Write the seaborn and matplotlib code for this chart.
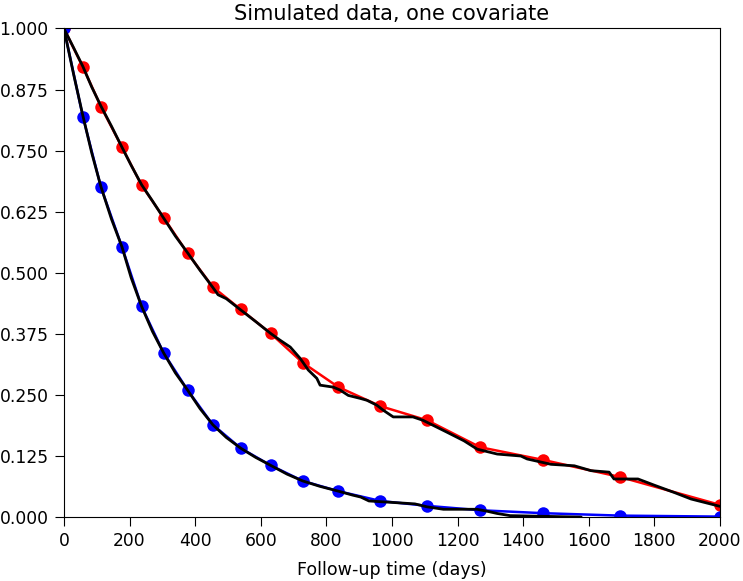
import numpy as np
import pandas as pd
import matplotlib
matplotlib.use("Agg")
import matplotlib.pyplot as plt
import seaborn as sns

# model curves evaluated at the marker times
times = [0, 58, 113, 177, 237, 304, 377, 454, 539, 630, 728, 837, 965,
         1108, 1269, 1461, 1696, 2000]
surv_red = [1.0, 0.921, 0.840, 0.757, 0.679, 0.613, 0.540, 0.471, 0.425,
            0.376, 0.316, 0.266, 0.227, 0.198, 0.143, 0.117, 0.082, 0.025]
surv_blue = [1.0, 0.819, 0.675, 0.553, 0.431, 0.336, 0.260, 0.189, 0.141,
             0.106, 0.074, 0.053, 0.033, 0.023, 0.014, 0.008, 0.003, 0.001]

# Kaplan-Meier estimates (black), vertices
km_red_t = [0, 30, 58, 85, 113, 145, 177, 205, 237, 270, 304, 340, 377, 415,
            454, 470, 495, 539, 585, 630, 659, 690, 720, 745, 771, 781, 821,
            842, 867, 903, 924, 954, 973, 995, 1004, 1064, 1095, 1137, 1167,
            1220, 1260, 1321, 1393, 1412, 1485, 1556, 1607, 1662, 1677, 1750,
            1801, 1862, 1912, 2000]
km_red_s = [1.0, 0.96, 0.922, 0.88, 0.841, 0.80, 0.757, 0.72, 0.680, 0.647,
            0.612, 0.575, 0.541, 0.505, 0.470, 0.455, 0.447, 0.424, 0.400,
            0.376, 0.362, 0.348, 0.325, 0.301, 0.284, 0.270, 0.266, 0.260,
            0.249, 0.243, 0.239, 0.229, 0.219, 0.209, 0.205, 0.205, 0.198,
            0.184, 0.174, 0.156, 0.139, 0.129, 0.125, 0.119, 0.108, 0.105,
            0.095, 0.092, 0.078, 0.078, 0.065, 0.050, 0.037, 0.022]
km_blue_t = [0, 30, 58, 85, 113, 145, 177, 205, 237, 270, 304, 340, 377, 415,
             454, 495, 539, 585, 630, 680, 728, 780, 837, 880, 905, 930, 1025,
             1070, 1107, 1157, 1259, 1290, 1320, 1360, 1577]
km_blue_s = [1.0, 0.905, 0.821, 0.745, 0.676, 0.61, 0.553, 0.49, 0.431, 0.38,
             0.336, 0.295, 0.26, 0.222, 0.189, 0.163, 0.141, 0.122, 0.106,
             0.088, 0.074, 0.063, 0.053, 0.045, 0.041, 0.033, 0.029, 0.027,
             0.021, 0.016, 0.016, 0.012, 0.0075, 0.003, 0.0]

sns.set_style("ticks")
plt.rcParams['font.family'] = ['DejaVu Sans']
plt.rcParams['text.color'] = 'black'
plt.rcParams['axes.labelcolor'] = 'black'

fig, ax = plt.subplots(figsize=(7.43, 5.81), dpi=100)
fig.subplots_adjust(left=0.086, right=0.969, top=0.951, bottom=0.110)

sns.lineplot(x=times, y=surv_red, color='red', marker='o', markersize=9,
             markeredgewidth=0, linewidth=1.8, ax=ax, sort=False)
sns.lineplot(x=times, y=surv_blue, color='blue', marker='o', markersize=9,
             markeredgewidth=0, linewidth=1.8, ax=ax, sort=False)
sns.lineplot(x=km_red_t, y=km_red_s, color='black', linewidth=2,
             ax=ax, sort=False)
sns.lineplot(x=km_blue_t, y=km_blue_s, color='black', linewidth=2,
             ax=ax, sort=False)

ax.set_xlim(0, 2000)
ax.set_ylim(0, 1)
ax.set_xticks(np.arange(0, 2001, 200))
ax.set_yticks(np.arange(0, 1.0001, 0.125))
ax.set_yticklabels(['%.3f' % v for v in np.arange(0, 1.0001, 0.125)])
ax.tick_params(labelsize=12.3, colors='black', length=6.5, pad=4.5)
for s in ax.spines.values():
    s.set_color('black')
ax.set_xlabel('Follow-up time (days)', fontsize=12.6, labelpad=8)
ax.set_title('Simulated data, one covariate', fontsize=15, color='black')

fig.savefig('out.png', dpi=100)
